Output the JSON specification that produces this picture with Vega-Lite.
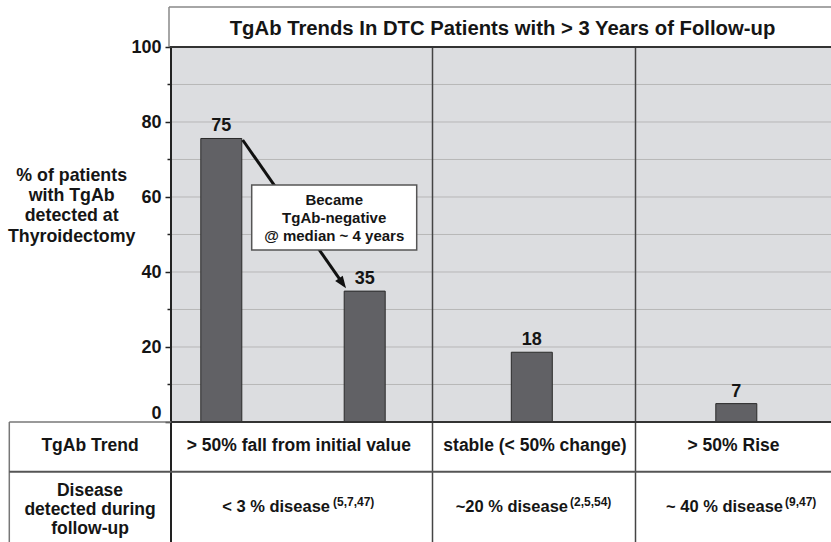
{
  "$schema": "https://vega.github.io/schema/vega-lite/v6.json",
  "width": 660,
  "height": 542,
  "autosize": {"type": "none"},
  "padding": {"left": 171, "top": 0, "right": 0, "bottom": 0},
  "background": "white",
  "config": {
    "view": {"stroke": null},
    "font": "Liberation Sans",
    "axisX": {"disable": true},
    "text": {"font": "Liberation Sans", "fontWeight": "bold", "color": "#151515", "baseline": "alphabetic"}
  },
  "datasets": {
    "bars": [
      {"trend": "> 50% fall from initial value", "stage": "at thyroidectomy", "label": 75, "pct": 75.6, "pos": 50.3},
      {"trend": "> 50% fall from initial value", "stage": "after follow-up", "label": 35, "pct": 34.9, "pos": 193.7},
      {"trend": "stable (< 50% change)", "stage": "after follow-up", "label": 18, "pct": 18.6, "pos": 360.8},
      {"trend": "> 50% Rise", "stage": "after follow-up", "label": 7, "pct": 4.9, "pos": 565.3}
    ],
    "grid": [{"v": 10}, {"v": 20}, {"v": 30}, {"v": 40}, {"v": 50}, {"v": 60}, {"v": 70}, {"v": 80}, {"v": 90}]
  },
  "layer": [
    {
      "data": {"values": [{}]},
      "mark": {"type": "rect", "fill": "#dcdde0"},
      "encoding": {
        "x": {"datum": 0, "type": "quantitative", "scale": {"domain": [0, 660], "nice": false, "zero": false, "padding": 0}},
        "x2": {"datum": 660},
        "y": {"datum": 0, "type": "quantitative", "scale": {"domain": [-32, 112.533], "nice": false, "zero": false, "padding": 0},
          "axis": {
            "title": null, "domain": false, "grid": false,
            "values": [0, 10, 20, 30, 40, 50, 60, 70, 80, 90, 100],
            "labelExpr": "datum.value % 20 == 0 ? datum.label : ''",
            "labelOverlap": false,
            "labelFont": "Liberation Sans", "labelFontWeight": "bold", "labelFontSize": 18, "labelColor": "#151515",
            "labelPadding": 4,
            "labelOffset": {"condition": {"test": "datum.value == 0", "value": -8}, "value": 1},
            "tickSize": {"condition": {"test": "datum.value % 20 == 0", "value": 6}, "value": 4},
            "tickWidth": 1.5, "tickColor": "#222"
          }},
        "y2": {"datum": 100}
      }
    },
    {
      "data": {"name": "grid"},
      "mark": {"type": "rule", "color": "#b8b8b8", "strokeWidth": 1},
      "encoding": {
        "x": {"datum": 0, "type": "quantitative"}, "x2": {"datum": 660},
        "y": {"field": "v", "type": "quantitative", "title": null}
      }
    },
    {
      "data": {"name": "bars"},
      "mark": {"type": "bar", "orient": "vertical", "size": 41, "fill": "#616165", "stroke": "#2a2a2a", "strokeWidth": 1},
      "encoding": {
        "x": {"field": "pos", "type": "quantitative", "title": null},
        "y": {"field": "pct", "type": "quantitative", "title": null},
        "y2": {"datum": 0}
      }
    },
    {
      "data": {"name": "bars"},
      "mark": {"type": "text", "fontSize": 18, "dy": -7, "align": "center"},
      "encoding": {
        "x": {"field": "pos", "type": "quantitative", "title": null},
        "y": {"field": "pct", "type": "quantitative", "title": null},
        "text": {"field": "label"}
      }
    },
    {"data": {"values": [{}]}, "mark": {"type": "rule", "color": "#444", "strokeWidth": 1.5},
      "encoding": {"x": {"datum": 261.5, "type": "quantitative"}, "y": {"datum": 100, "type": "quantitative"}, "y2": {"datum": -32}}},
    {"data": {"values": [{}]}, "mark": {"type": "rule", "color": "#444", "strokeWidth": 1.5},
      "encoding": {"x": {"datum": 464.5, "type": "quantitative"}, "y": {"datum": 100, "type": "quantitative"}, "y2": {"datum": -32}}},
    {"data": {"values": [{}]}, "mark": {"type": "rule", "color": "#222", "strokeWidth": 2},
      "encoding": {"x": {"datum": 0, "type": "quantitative"}, "y": {"datum": 100, "type": "quantitative"}, "y2": {"datum": -32}}},
    {"data": {"values": [{}]}, "mark": {"type": "rule", "color": "#333", "strokeWidth": 2},
      "encoding": {"x": {"datum": 0, "type": "quantitative"}, "x2": {"datum": 660}, "y": {"datum": 0, "type": "quantitative"}}},
    {"data": {"values": [{}]}, "mark": {"type": "rule", "color": "#333", "strokeWidth": 2},
      "encoding": {"x": {"datum": -2, "type": "quantitative"}, "x2": {"datum": 660}, "y": {"datum": 100, "type": "quantitative"}}},
    {"data": {"values": [{}]}, "mark": {"type": "rule", "color": "#888", "strokeWidth": 1.5},
      "encoding": {"x": {"datum": -2, "type": "quantitative"}, "x2": {"datum": 660}, "y": {"datum": 110.667, "type": "quantitative"}}},
    {"data": {"values": [{}]}, "mark": {"type": "rule", "color": "#888", "strokeWidth": 1.5},
      "encoding": {"x": {"datum": -2, "type": "quantitative"}, "y": {"datum": 100, "type": "quantitative"}, "y2": {"datum": 110.667}}},
    {"data": {"values": [{}]}, "mark": {"type": "rule", "color": "#777", "strokeWidth": 1.5},
      "encoding": {"x": {"datum": -161.7, "type": "quantitative"}, "y": {"datum": 0, "type": "quantitative"}, "y2": {"datum": -32}}},
    {"data": {"values": [{}]}, "mark": {"type": "rule", "color": "#777", "strokeWidth": 1.5},
      "encoding": {"x": {"datum": -161.7, "type": "quantitative"}, "x2": {"datum": 0}, "y": {"datum": 0, "type": "quantitative"}}},
    {"data": {"values": [{}]}, "mark": {"type": "rule", "color": "#555", "strokeWidth": 2},
      "encoding": {"x": {"datum": -161.7, "type": "quantitative"}, "x2": {"datum": 660}, "y": {"datum": -13.25, "type": "quantitative"}}},
    {"data": {"values": [{}]}, "mark": {"type": "rule", "color": "#111", "strokeWidth": 3},
      "encoding": {"x": {"datum": 71.7, "type": "quantitative"}, "x2": {"datum": 169.9}, "y": {"datum": 75.2, "type": "quantitative"}, "y2": {"datum": 37.63}}},
    {"data": {"values": [{}]}, "mark": {"type": "point", "shape": "M0,0L0.75,2L-0.75,2Z", "size": 150, "filled": true, "fill": "#111", "opacity": 1, "strokeWidth": 0, "angle": 145},
      "encoding": {"x": {"datum": 175, "type": "quantitative"}, "y": {"datum": 35.65, "type": "quantitative"}}},
    {"data": {"values": [{}]}, "mark": {"type": "rect", "fill": "white", "stroke": "#555", "strokeWidth": 1.5},
      "encoding": {"x": {"datum": 80.7, "type": "quantitative"}, "x2": {"datum": 245.7}, "y": {"datum": 63.2, "type": "quantitative"}, "y2": {"datum": 45.87}}},
    {"data": {"values": [{}]}, "mark": {"type": "text", "text": ["Became", "TgAb-negative", "@ median ~ 4 years"], "fontSize": 15, "lineHeight": 18, "align": "center"},
      "encoding": {"x": {"datum": 163.2, "type": "quantitative"}, "y": {"datum": 57.87, "type": "quantitative"}}},
    {"data": {"values": [{}]}, "mark": {"type": "text", "text": "TgAb Trends In DTC Patients with > 3 Years of Follow-up", "fontSize": 20.3, "align": "center"},
      "encoding": {"x": {"datum": 331.5, "type": "quantitative"}, "y": {"datum": 103.2, "type": "quantitative"}}},
    {"data": {"values": [{}]}, "mark": {"type": "text", "text": ["% of patients", "with TgAb", "detected at", "Thyroidectomy"], "fontSize": 17.8, "lineHeight": 20.3, "align": "center"},
      "encoding": {"x": {"datum": -99.3, "type": "quantitative"}, "y": {"datum": 64.35, "type": "quantitative"}}},
    {"data": {"values": [{}]}, "mark": {"type": "text", "text": "TgAb Trend", "fontSize": 17.5, "align": "center"},
      "encoding": {"x": {"datum": -81, "type": "quantitative"}, "y": {"datum": -7.65, "type": "quantitative"}}},
    {"data": {"values": [{}]}, "mark": {"type": "text", "text": "> 50% fall from initial value", "fontSize": 17.5, "align": "center"},
      "encoding": {"x": {"datum": 127.8, "type": "quantitative"}, "y": {"datum": -7.65, "type": "quantitative"}}},
    {"data": {"values": [{}]}, "mark": {"type": "text", "text": "stable (< 50% change)", "fontSize": 17.5, "align": "center"},
      "encoding": {"x": {"datum": 364, "type": "quantitative"}, "y": {"datum": -7.65, "type": "quantitative"}}},
    {"data": {"values": [{}]}, "mark": {"type": "text", "text": "> 50% Rise", "fontSize": 17.5, "align": "center"},
      "encoding": {"x": {"datum": 562.5, "type": "quantitative"}, "y": {"datum": -7.65, "type": "quantitative"}}},
    {"data": {"values": [{}]}, "mark": {"type": "text", "text": ["Disease", "detected during", "follow-up"], "fontSize": 17.5, "lineHeight": 19, "align": "center"},
      "encoding": {"x": {"datum": -81, "type": "quantitative"}, "y": {"datum": -19.65, "type": "quantitative"}}},
    {"data": {"values": [{}]}, "mark": {"type": "text", "text": "< 3 % disease", "fontSize": 16.5, "align": "right"},
      "encoding": {"x": {"datum": 159, "type": "quantitative"}, "y": {"datum": -23.92, "type": "quantitative"}}},
    {"data": {"values": [{}]}, "mark": {"type": "text", "text": "(5,7,47)", "fontSize": 12, "align": "left"},
      "encoding": {"x": {"datum": 162, "type": "quantitative"}, "y": {"datum": -22.4, "type": "quantitative"}}},
    {"data": {"values": [{}]}, "mark": {"type": "text", "text": "~20 % disease", "fontSize": 16.5, "align": "right"},
      "encoding": {"x": {"datum": 397, "type": "quantitative"}, "y": {"datum": -23.92, "type": "quantitative"}}},
    {"data": {"values": [{}]}, "mark": {"type": "text", "text": "(2,5,54)", "fontSize": 12, "align": "left"},
      "encoding": {"x": {"datum": 399, "type": "quantitative"}, "y": {"datum": -22.4, "type": "quantitative"}}},
    {"data": {"values": [{}]}, "mark": {"type": "text", "text": "~ 40 % disease", "fontSize": 16.5, "align": "right"},
      "encoding": {"x": {"datum": 612, "type": "quantitative"}, "y": {"datum": -23.92, "type": "quantitative"}}},
    {"data": {"values": [{}]}, "mark": {"type": "text", "text": "(9,47)", "fontSize": 12, "align": "left"},
      "encoding": {"x": {"datum": 614, "type": "quantitative"}, "y": {"datum": -22.4, "type": "quantitative"}}}
  ]
}
